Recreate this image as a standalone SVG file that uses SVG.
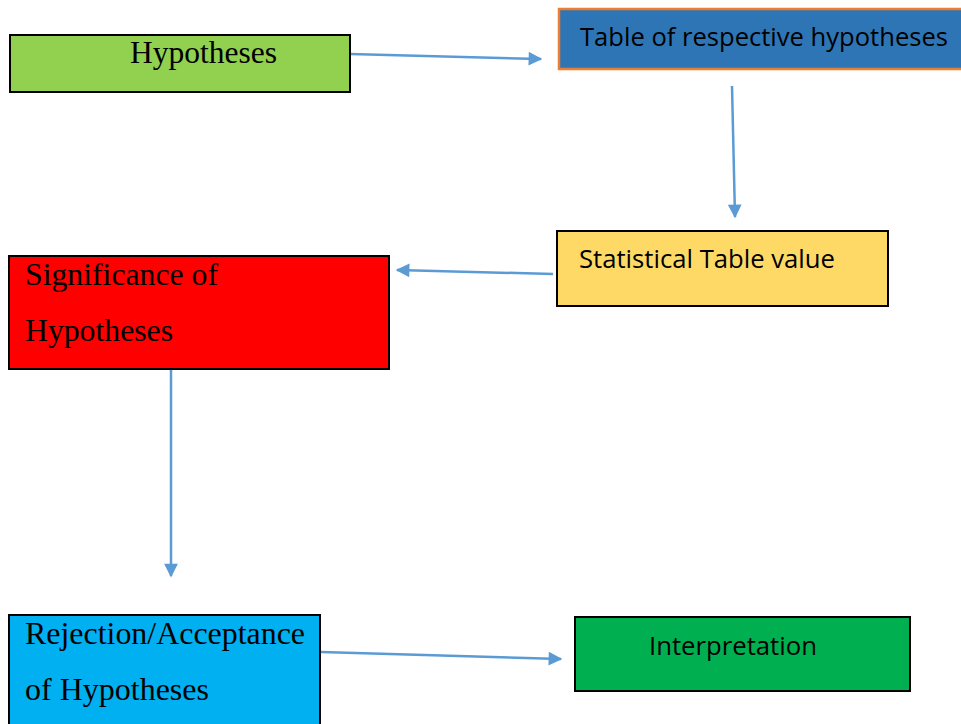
<svg xmlns="http://www.w3.org/2000/svg" width="961" height="724" viewBox="0 0 961 724">
<defs>
<style>
.box{stroke:#000;stroke-width:2}
.serif{font-family:"Liberation Serif","Times New Roman",serif;font-size:31px;fill:#000}
.sans{font-family:"Open Sans","Liberation Sans",sans-serif;font-size:25px;fill:#000}
.conn{stroke:#5b9bd5;stroke-width:2.5;fill:none;marker-end:url(#ah)}
</style>
<marker id="ah" viewBox="0 0 10 10" refX="9" refY="5" markerWidth="6" markerHeight="5.5" markerUnits="strokeWidth" orient="auto">
<path d="M0,0 L10,5 L0,10 z" fill="#5b9bd5"/>
</marker>
</defs>
<rect width="961" height="724" fill="#fff"/>
<g id="connectors">
<path class="conn" d="M350,54 L541,59"/>
<path class="conn" d="M732,86 L735,217"/>
<path class="conn" d="M553,274 L397,270"/>
<path class="conn" d="M171,370 L171,576"/>
<path class="conn" d="M321,652 L561,659"/>
</g>
<g id="n-hypotheses">
<rect class="box" x="10" y="35" width="340" height="57" fill="#92d050"/>
<text class="serif" x="130" y="63" textLength="147" lengthAdjust="spacingAndGlyphs">Hypotheses</text>
</g>
<g id="n-table">
<rect x="559" y="9" width="406" height="60" fill="#2e75b6" stroke="#ed7d31" stroke-width="2.5"/>
<text class="sans" x="580" y="46" textLength="368" lengthAdjust="spacingAndGlyphs">Table of respective hypotheses</text>
</g>
<g id="n-statistical">
<rect class="box" x="557" y="231" width="331" height="75" fill="#ffd966"/>
<text class="sans" x="579" y="268" textLength="256" lengthAdjust="spacingAndGlyphs">Statistical Table value</text>
</g>
<g id="n-significance">
<rect class="box" x="9" y="256" width="380" height="113" fill="#ff0000"/>
<text class="serif" x="25" y="285" textLength="193" lengthAdjust="spacingAndGlyphs">Significance of</text>
<text class="serif" x="25" y="341" textLength="148" lengthAdjust="spacingAndGlyphs">Hypotheses</text>
</g>
<g id="n-rejection">
<rect class="box" x="9" y="615" width="311" height="115" fill="#00b0f0"/>
<text class="serif" x="25" y="644" textLength="280" lengthAdjust="spacingAndGlyphs">Rejection/Acceptance</text>
<text class="serif" x="25" y="700" textLength="184" lengthAdjust="spacingAndGlyphs">of Hypotheses</text>
</g>
<g id="n-interpretation">
<rect class="box" x="575" y="617" width="335" height="74" fill="#00b050"/>
<text class="sans" x="649" y="655" textLength="168" lengthAdjust="spacingAndGlyphs">Interpretation</text>
</g>
</svg>
